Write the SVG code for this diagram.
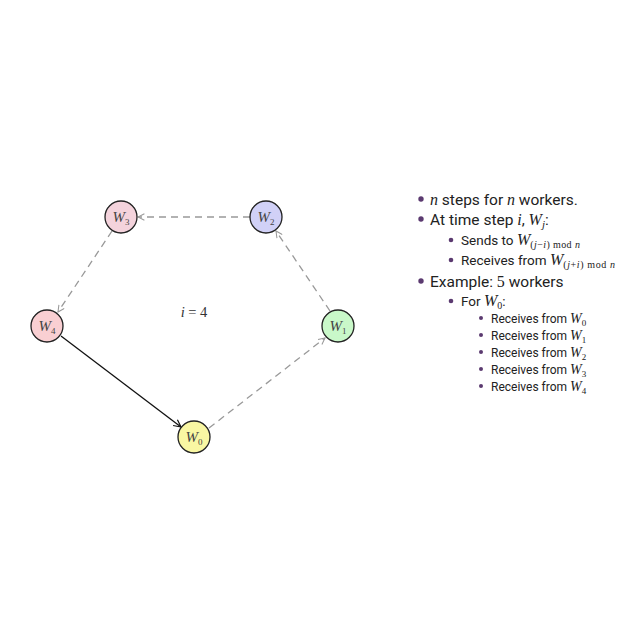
<svg xmlns="http://www.w3.org/2000/svg" width="640" height="640" viewBox="0 0 640 640">
<defs>
<style>
.node{stroke:#222;stroke-width:1.3}
.lbl{font-family:"Liberation Serif",serif;font-style:italic;font-size:15px;fill:#444;text-anchor:middle}
.sub{font-size:9px;font-style:normal}
.dash{stroke:#999;stroke-width:1.3;stroke-dasharray:7 5;fill:none}
.solid{stroke:#111;stroke-width:1.3;fill:none}
.t{font-family:Roboto,"Liberation Sans",sans-serif;fill:#222}
.m{font-family:"Liberation Serif",serif;font-style:italic}
.mr{font-family:"Liberation Serif",serif}
.b{fill:#5b3a70}
</style>
<marker id="ag" viewBox="0 0 10 10" refX="9" refY="5" markerWidth="8" markerHeight="8" orient="auto" markerUnits="userSpaceOnUse"><path d="M1,1 L9,5 L1,9" fill="none" stroke="#999" stroke-width="1.3"/></marker>
<marker id="ab" viewBox="0 0 10 10" refX="9" refY="5" markerWidth="9" markerHeight="9" orient="auto" markerUnits="userSpaceOnUse"><path d="M1,1 L9,5 L1,9" fill="none" stroke="#111" stroke-width="1.3"/></marker>
</defs>
<rect width="640" height="640" fill="#fff"/>
<g id="connectors">
<line class="dash" x1="250" y1="217" x2="138" y2="217" marker-end="url(#ag)"/>
<line class="dash" x1="112" y1="231" x2="58" y2="312" marker-end="url(#ag)"/>
<line class="solid" x1="61" y1="336" x2="181" y2="427" marker-end="url(#ab)"/>
<line class="dash" x1="209" y1="428" x2="325" y2="338" marker-end="url(#ag)"/>
<line class="dash" x1="330" y1="311" x2="276" y2="231" marker-end="url(#ag)"/>
</g>
<g id="W3"><circle class="node" cx="121" cy="217" r="16" fill="#f4d3dc"/><text class="lbl" x="121" y="222">W<tspan class="sub" dy="3">3</tspan></text></g>
<g id="W2"><circle class="node" cx="266" cy="217" r="16" fill="#d1d1f7"/><text class="lbl" x="266" y="222">W<tspan class="sub" dy="3">2</tspan></text></g>
<g id="W4"><circle class="node" cx="47" cy="326" r="16" fill="#f9cfd2"/><text class="lbl" x="47" y="331">W<tspan class="sub" dy="3">4</tspan></text></g>
<g id="W1"><circle class="node" cx="338" cy="326" r="16" fill="#c9f8c9"/><text class="lbl" x="338" y="331">W<tspan class="sub" dy="3">1</tspan></text></g>
<g id="W0"><circle class="node" cx="194" cy="437" r="16" fill="#f9f7a3"/><text class="lbl" x="194" y="442">W<tspan class="sub" dy="3">0</tspan></text></g>
<text x="194" y="317" font-family="Liberation Serif,serif" font-size="14.5" fill="#333" text-anchor="middle"><tspan font-style="italic">i</tspan> = 4</text>
<g id="list">
<circle class="b" cx="421" cy="199" r="2.7"/>
<text class="t" x="430" y="204.5" font-size="15.5"><tspan class="m" font-size="16">n</tspan> steps for <tspan class="m" font-size="16">n</tspan> workers.</text>
<circle class="b" cx="421" cy="219" r="2.7"/>
<text class="t" x="430" y="224.5" font-size="15.5">At time step <tspan class="m" font-size="16">i</tspan>, <tspan class="m" font-size="16">W</tspan><tspan class="m" font-size="11" dy="3">j</tspan><tspan dy="-3">:</tspan></text>
<circle class="b" cx="451" cy="240" r="2.3"/>
<text class="t" x="461" y="245" font-size="13.5">Sends to <tspan class="m" font-size="16">W</tspan><tspan class="mr" font-size="10" dy="3" letter-spacing="0.4">(<tspan font-style="italic">j</tspan>−<tspan font-style="italic">i</tspan>) mod <tspan font-style="italic">n</tspan></tspan></text>
<circle class="b" cx="451" cy="260" r="2.3"/>
<text class="t" x="461" y="265" font-size="13.5">Receives from <tspan class="m" font-size="16">W</tspan><tspan class="mr" font-size="10" dy="3" letter-spacing="0.6">(<tspan font-style="italic">j</tspan>+<tspan font-style="italic">i</tspan>) mod <tspan font-style="italic">n</tspan></tspan></text>
<circle class="b" cx="421" cy="281" r="2.7"/>
<text class="t" x="430" y="286.5" font-size="15.5">Example: <tspan class="mr" font-size="16">5</tspan> workers</text>
<circle class="b" cx="451" cy="301" r="2.3"/>
<text class="t" x="461" y="306" font-size="13.5">For <tspan class="m" font-size="16">W</tspan><tspan class="mr" font-size="10" dy="3">0</tspan><tspan dy="-3">:</tspan></text>
<circle class="b" cx="481" cy="318" r="2"/>
<text class="t" x="491" y="323" font-size="12">Receives from <tspan class="m" font-size="14">W</tspan><tspan class="mr" font-size="9" dy="3">0</tspan></text>
<circle class="b" cx="481" cy="335" r="2"/>
<text class="t" x="491" y="340" font-size="12">Receives from <tspan class="m" font-size="14">W</tspan><tspan class="mr" font-size="9" dy="3">1</tspan></text>
<circle class="b" cx="481" cy="352" r="2"/>
<text class="t" x="491" y="357" font-size="12">Receives from <tspan class="m" font-size="14">W</tspan><tspan class="mr" font-size="9" dy="3">2</tspan></text>
<circle class="b" cx="481" cy="369" r="2"/>
<text class="t" x="491" y="374" font-size="12">Receives from <tspan class="m" font-size="14">W</tspan><tspan class="mr" font-size="9" dy="3">3</tspan></text>
<circle class="b" cx="481" cy="386" r="2"/>
<text class="t" x="491" y="391" font-size="12">Receives from <tspan class="m" font-size="14">W</tspan><tspan class="mr" font-size="9" dy="3">4</tspan></text>
</g>
</svg>
